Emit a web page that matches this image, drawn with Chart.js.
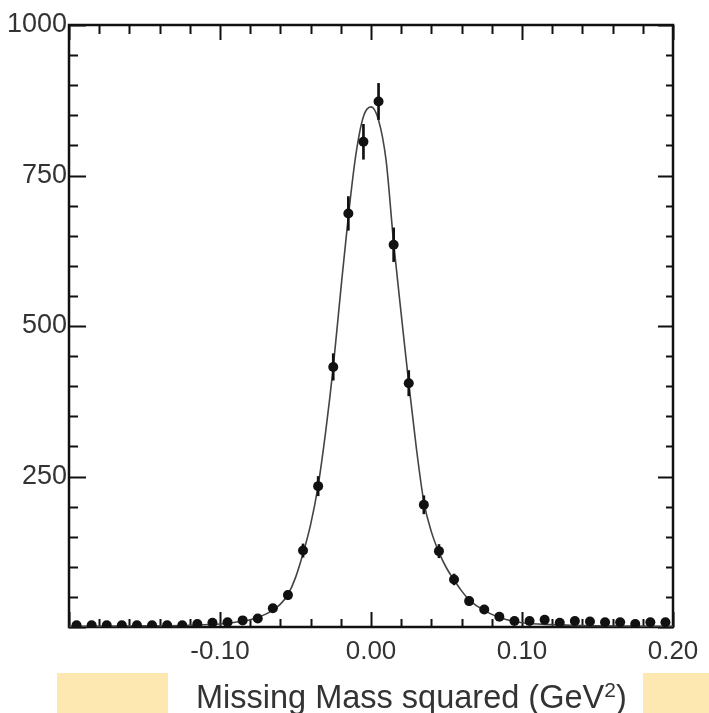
<!DOCTYPE html>
<html>
<head>
<meta charset="utf-8">
<script src="https://cdn.jsdelivr.net/npm/chart.js@4.4.0/dist/chart.umd.min.js"></script>
<style>
  body { margin: 0; background: #fff; }
  #wrap { position: relative; width: 709px; height: 713px; overflow: hidden; }
  #wrap canvas { position: absolute; left: 0; top: 0; }
  .patch { position: absolute; top: 673px; height: 40px; background: #fde8b2; }
  #xtitle { position: absolute; left: 196px; top: 681px; font: 32.5px "Liberation Sans", Arial, sans-serif; line-height: 1; color: #333; white-space: nowrap; }
  #xtitle sup { font-size: 21px; position: relative; top: -11px; vertical-align: baseline; }
</style>
</head>
<body>
<div id="wrap">
  <div class="patch" style="left:57px;width:111px"></div>
  <div class="patch" style="left:643px;width:66px"></div>
  <canvas id="massChart" width="709" height="713"></canvas>
  <div id="xtitle">Missing Mass squared (GeV<sup>2</sup>)</div>
</div>
<script>
/*
DATA
*/
const binCenters = [
  -0.195, -0.185, -0.175, -0.165, -0.155, -0.145, -0.135, -0.125, -0.115, -0.105,
  -0.095, -0.085, -0.075, -0.065, -0.055, -0.045, -0.035, -0.025, -0.015, -0.005,
   0.005,  0.015,  0.025,  0.035,  0.045,  0.055,  0.065,  0.075,  0.085,  0.095,
   0.105,  0.115,  0.125,  0.135,  0.145,  0.155,  0.165,  0.175,  0.185,  0.195
];
const counts = [
  3, 3, 3, 3, 3, 3, 3, 3, 5, 7,
  8, 11, 14, 31, 53, 127, 234, 432, 687, 806,
  873, 635, 405, 203, 126, 79, 43, 29, 17, 10,
  10, 12, 7, 10, 9, 8, 8, 5, 8, 8
];
const errors = [
  2, 2, 2, 2, 2, 2, 2, 2, 2, 3,
  3, 3, 4, 6, 7, 11, 16, 22, 28, 29,
  30, 28, 21, 15, 11, 9, 7, 5, 4, 3,
  3, 4, 3, 3, 3, 3, 3, 2, 3, 3
];

// fitted curve
const curveX = [
  -0.2, -0.15, -0.12, -0.1, -0.09, -0.08, -0.075, -0.07, -0.065, -0.06, -0.055,
  -0.05, -0.045, -0.04, -0.035, -0.03, -0.025, -0.02, -0.015, -0.01, -0.005,
  0, 0.005, 0.01, 0.015, 0.02, 0.025, 0.03, 0.035, 0.04, 0.045, 0.05, 0.055,
  0.06, 0.065, 0.07, 0.075, 0.08, 0.085, 0.09, 0.1, 0.12, 0.15, 0.2
];
const curveY = [
  1, 2, 3, 5, 8, 12, 16, 21, 28, 38, 54,
  82, 122, 170, 235, 325, 432, 560, 682, 785, 848,
  864, 842, 775, 638, 520, 405, 298, 208, 158, 124, 98, 78,
  60, 45, 35, 28, 21, 16, 12, 7, 4, 2, 1
];

const xLabelValues = [-0.10, 0.00, 0.10, 0.20];
const yLabelValues = [250, 500, 750, 1000];

/*
HELPERS
*/
function onStep(v, step) {
  return Math.abs(v / step - Math.round(v / step)) < 1e-6;
}
function hasLabel(list, v) {
  return list.some(l => Math.abs(l - v) < 1e-6);
}

// frame and inward ticks on all four sides
const frameTicks = {
  id: 'frameTicks',
  beforeDatasetsDraw(chart) {
    const ctx = chart.ctx;
    const a = chart.chartArea;
    const x = chart.scales.x;
    const y = chart.scales.y;
    ctx.save();
    ctx.strokeStyle = '#111';
    ctx.lineWidth = 2;
    ctx.beginPath();
    for (const t of x.ticks) {
      const px = Math.round(x.getPixelForValue(t.value)) + 0.5;
      const major = onStep(t.value, 0.1);
      ctx.moveTo(px, a.bottom);
      ctx.lineTo(px, a.bottom - (major ? 15 : 8));
      ctx.moveTo(px, a.top);
      ctx.lineTo(px, a.top + (major ? 15 : 9));
    }
    for (const t of y.ticks) {
      const py = Math.round(y.getPixelForValue(t.value)) + 0.5;
      const major = onStep(t.value, 250);
      ctx.moveTo(a.left, py);
      ctx.lineTo(a.left + (major ? 17 : 9), py);
      ctx.moveTo(a.right, py);
      ctx.lineTo(a.right - (major ? 15 : 7), py);
    }
    ctx.stroke();
    ctx.lineWidth = 2.5;
    ctx.strokeRect(a.left, a.top, a.right - a.left, a.bottom - a.top);
    ctx.restore();
  }
};

const xFont = { family: '"Liberation Sans", Arial, sans-serif', size: 26 };
const yFont = { family: '"Liberation Sans", Arial, sans-serif', size: 27 };

const pointData = binCenters.map((c, i) => ({ x: c, y: counts[i] }));
const errorData = binCenters.map((c, i) => ({ x: c, y: [counts[i] - errors[i], counts[i] + errors[i]] }));
const curveData = curveX.map((c, i) => ({ x: c, y: curveY[i] }));

const massData = {
  datasets: [{
    type: 'line',
    label: 'fit',
    data: curveData,
    borderColor: '#444',
    borderWidth: 1.6,
    pointRadius: 0,
    fill: false,
    cubicInterpolationMode: 'monotone',
    order: 3
  }, {
    type: 'bar',
    label: 'errors',
    data: errorData,
    backgroundColor: '#111',
    barThickness: 2,
    order: 2
  }, {
    type: 'scatter',
    label: 'data',
    data: pointData,
    backgroundColor: '#111',
    borderWidth: 0,
    pointRadius: 5,
    order: 1
  }]
};

const massConfig = {
  type: 'scatter',
  data: massData,
  options: {
    responsive: false,
    animation: false,
    devicePixelRatio: 1,
    layout: { padding: { top: 25, right: 36, left: 0, bottom: 0 } },
    plugins: {
      legend: { display: false },
      tooltip: { enabled: false }
    },
    scales: {
      x: {
        type: 'linear',
        min: -0.2,
        max: 0.2,
        offset: false,
        grid: { display: false, drawTicks: false, offset: false },
        border: { display: false },
        ticks: {
          stepSize: 0.02,
          autoSkip: false,
          maxRotation: 0,
          minRotation: 0,
          padding: 9,
          color: '#333',
          font: xFont,
          callback: (v) => hasLabel(xLabelValues, v) ? (Math.abs(v) < 1e-9 ? '0.00' : v.toFixed(2)) : ''
        },
        afterFit(s) { s.height = 86; }
      },
      y: {
        type: 'linear',
        min: 0,
        max: 1000,
        grid: { display: false, drawTicks: false },
        border: { display: false },
        ticks: {
          stepSize: 50,
          autoSkip: false,
          padding: 2,
          color: '#333',
          font: yFont,
          callback: (v) => hasLabel(yLabelValues, v) ? String(v) : ''
        },
        afterFit(s) { s.width = 69; }
      }
    }
  },
  plugins: [frameTicks]
};

const massChart = new Chart(
  document.getElementById('massChart'),
  massConfig
);
</script>
</body>
</html>
